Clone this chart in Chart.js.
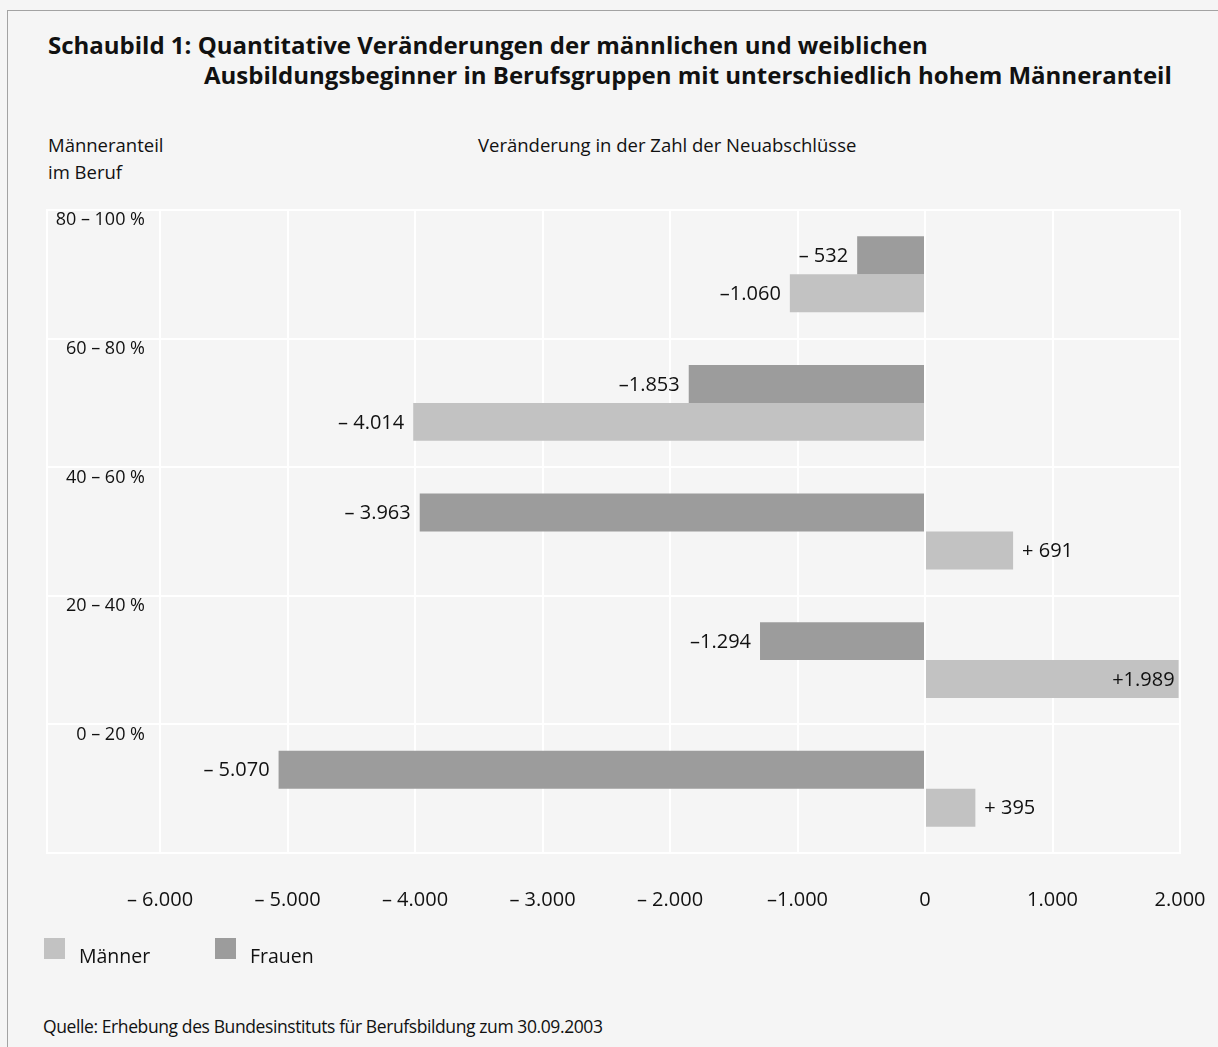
<!DOCTYPE html>
<html lang="de">
<head>
  <meta charset="UTF-8" />
  <title>Schaubild 1</title>
  <script src="https://cdn.jsdelivr.net/npm/chart.js"></script>
  <style>
    html, body { margin: 0; padding: 0; }
    body {
      width: 1218px; height: 1047px; overflow: hidden; position: relative;
      background: #f5f5f5; font-family: "Open Sans", sans-serif; color: #111;
    }
    .frame {
      position: absolute; left: 7px; top: 10px; right: -2px; bottom: -2px;
      border-left: 1px solid #a3a3a3; border-top: 1px solid #a3a3a3;
    }
    .title {
      position: absolute; left: 48px; top: 30px; margin: 0;
      font-size: 24px; font-weight: 700; line-height: 30px;
    }
    .title span { display: block; }
    .title span + span { padding-left: 156px; }
    .caption { position: absolute; font-size: 18.5px; line-height: 27px; }
    #chartBox { position: absolute; left: 0; top: 0; width: 1218px; height: 958px; }
    #legend { position: absolute; left: 44px; top: 938px; font-size: 19.5px; }
    #legend .item { position: absolute; top: 0; white-space: nowrap; }
    #legend .swatch { position: absolute; left: 0; top: 0; width: 21px; height: 21px; }
    #legend .label { position: absolute; left: 35px; top: 4px; }
    .source {
      position: absolute; left: 43px; top: 1015px; line-height: 22px;
      font-size: 17.5px; letter-spacing: -0.4px;
    }
  </style>
</head>
<body>
  <div class="frame"></div>

  <h1 class="title">
    <span>Schaubild 1: Quantitative Veränderungen der männlichen und weiblichen</span>
    <span>Ausbildungsbeginner in Berufsgruppen mit unterschiedlich hohem Männeranteil</span>
  </h1>

  <div class="caption" style="left:48px; top:131px;">Männeranteil<br>im Beruf</div>
  <div class="caption" style="left:478px; top:131px;">Veränderung in der Zahl der Neuabschlüsse</div>

  <div id="chartBox"><canvas id="changeChart"></canvas></div>

  <div id="legend"></div>

  <div class="source">Quelle: Erhebung des Bundesinstituts für Berufsbildung zum 30.09.2003</div>

  <script>
    // Männeranteil groups, top to bottom
    const groups = ["80 – 100 %", "60 – 80 %", "40 – 60 %", "20 – 40 %", "0 – 20 %"];

    // change in new contracts per group
    const frauen  = [-532, -1853, -3963, -1294, -5070];
    const maenner = [-1060, -4014, 691, 1989, 395];

    // x axis ticks
    const xTicks = [-6000, -5000, -4000, -3000, -2000, -1000, 0, 1000, 2000];

    const colorFrauen = "#9c9c9c";
    const colorMaenner = "#c2c2c2";
    const fontFamily = "'Open Sans', sans-serif";

    // German number style: en dash sign, dot as thousands separator
    function fmt(v, withPlus) {
      const digits = String(Math.abs(v)).replace(/\B(?=(\d{3})+(?!\d))/g, ".");
      let sign = "";
      if (v < 0) sign = "–";
      else if (v > 0 && withPlus) sign = "+";
      if (!sign) return digits;
      return sign + (digits[0] === "1" ? "" : " ") + digits;
    }

    // value next to the end of each bar
    const valueLabels = {
      id: "valueLabels",
      afterDatasetsDraw(chart) {
        const ctx = chart.ctx;
        const area = chart.chartArea;
        ctx.save();
        ctx.font = "20px " + fontFamily;
        ctx.fillStyle = "#111";
        ctx.textBaseline = "middle";
        chart.data.datasets.forEach((ds, i) => {
          chart.getDatasetMeta(i).data.forEach((bar, j) => {
            const v = ds.data[j];
            const text = fmt(v, true);
            const w = ctx.measureText(text).width;
            let x = bar.x;
            if (v < 0) {
              x -= 9; ctx.textAlign = "right";
            } else if (bar.x + 9 + w > area.right) {
              x -= 4; ctx.textAlign = "right";
            } else {
              x += 9; ctx.textAlign = "left";
            }
            ctx.fillText(text, x, bar.y + 1);
          });
        });
        ctx.restore();
      }
    };

    // left edge of the grid, in front of the group labels
    const frameEdge = {
      id: "frameEdge",
      afterDraw(chart) {
        const ctx = chart.ctx;
        const y = chart.scales.y;
        ctx.save();
        ctx.strokeStyle = "#ffffff";
        ctx.lineWidth = 2;
        ctx.beginPath();
        ctx.moveTo(y.left, chart.chartArea.top - 1);
        ctx.lineTo(y.left, chart.chartArea.bottom + 1);
        ctx.stroke();
        ctx.restore();
      }
    };

    const chart = new Chart(document.getElementById("changeChart"), {
      type: "bar",
      data: {
        labels: groups,
        datasets: [
          { label: "Frauen", data: frauen, backgroundColor: colorFrauen },
          { label: "Männer", data: maenner, backgroundColor: colorMaenner }
        ]
      },
      options: {
        indexAxis: "y",
        responsive: true,
        maintainAspectRatio: false,
        animation: false,
        categoryPercentage: 0.59,
        barPercentage: 1.0,
        layout: { padding: { left: 47, right: 38, top: 210, bottom: 11 } },
        scales: {
          x: {
            min: xTicks[0],
            max: xTicks[xTicks.length - 1],
            afterBuildTicks(scale) {
              scale.ticks = xTicks.map(v => ({ value: v }));
            },
            // end labels may hang over the plot edges
            afterFit(scale) {
              scale.paddingLeft = 0;
              scale.paddingRight = 0;
            },
            grid: { color: "#ffffff", lineWidth: 2, drawTicks: false },
            border: { color: "#ffffff", width: 2 },
            ticks: {
              padding: 35,
              color: "#111",
              font: { family: fontFamily, size: 20 },
              callback: v => fmt(v, false)
            }
          },
          y: {
            afterFit(scale) { scale.width = 113; },
            grid: { color: "#ffffff", lineWidth: 2, drawTicks: true, tickLength: 113, tickColor: "#ffffff" },
            border: { color: "#ffffff", width: 2 },
            ticks: {
              padding: -98,
              labelOffset: -54,
              color: "#111",
              font: { family: fontFamily, size: 18 }
            }
          }
        },
        plugins: {
          legend: { display: false },
          tooltip: { enabled: false }
        }
      },
      plugins: [valueLabels, frameEdge]
    });

    // legend: Männer first, then Frauen
    const legendBox = document.getElementById("legend");
    const legendOffsets = [0, 171];
    chart.data.datasets.slice().reverse().forEach((ds, i) => {
      const item = document.createElement("div");
      item.className = "item";
      item.style.left = legendOffsets[i] + "px";
      item.innerHTML = '<span class="swatch" style="background:' + ds.backgroundColor + '"></span>' +
                       '<span class="label">' + ds.label + '</span>';
      legendBox.appendChild(item);
    });
  </script>
</body>
</html>
